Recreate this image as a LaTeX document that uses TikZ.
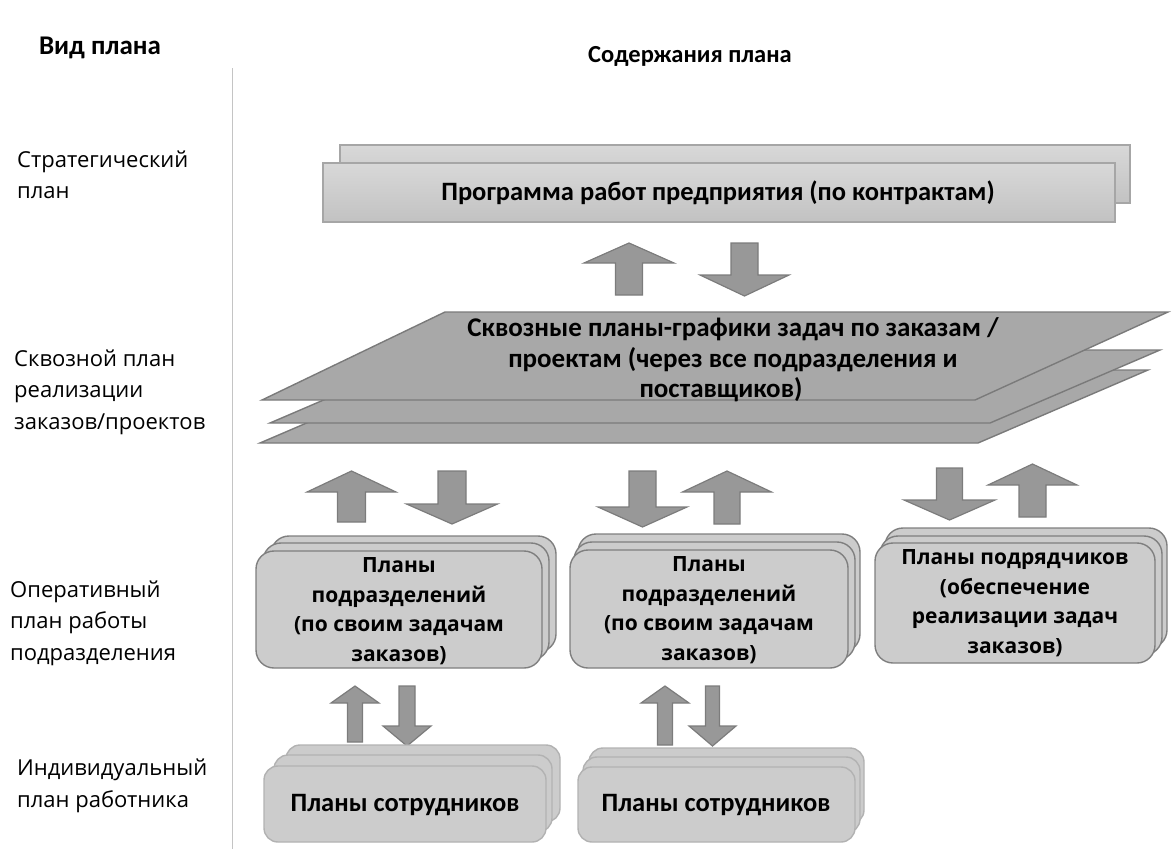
\documentclass[tikz,border=0pt]{standalone}
\usepackage{fontspec}
\setmainfont{Open Sans}
\newfontfamily\condbold{Carlito}[BoldFont={* Bold}]
\usetikzlibrary{calc}

\definecolor{topfillA}{HTML}{D8D8D8}
\definecolor{topfillB}{HTML}{C2C2C2}
\definecolor{topline}{HTML}{A6A6A6}
\definecolor{sheetfill}{HTML}{A8A8A8}
\definecolor{sheetline}{HTML}{7A7A7A}
\definecolor{arrfill}{HTML}{989898}
\definecolor{arrline}{HTML}{7C7C7C}
\definecolor{boxfill}{HTML}{CCCCCC}
\definecolor{boxline}{HTML}{7F7F7F}
\definecolor{lowline}{HTML}{B2B2B2}
\definecolor{rulecol}{HTML}{C4C4C4}

\tikzset{
  topbox/.style={top color=topfillA, bottom color=topfillB, draw=topline, line width=1.2},
  sheet/.style={fill=sheetfill, draw=sheetline, line width=1.4, line join=miter},
  blockarrow/.style={fill=arrfill, draw=arrline, line width=1.2, line join=miter},
  midbox/.style={fill=boxfill, draw=boxline, line width=1.4, rounded corners=18},
  lowbox/.style={fill=boxfill, draw=lowline, line width=1.4, rounded corners=14},
  rowlabel/.style={anchor=west, align=left, inner sep=0,
    font=\fontsize{22}{31.5}\selectfont},
  headlabel/.style={inner sep=0, font=\condbold\bfseries\fontsize{26}{30}\selectfont},
  sheettext/.style={inner sep=0, align=center,
    font=\condbold\bfseries\fontsize{27}{30.5}\selectfont},
  midtext/.style={inner sep=0, align=center,
    font=\bfseries\fontsize{21}{29.5}\selectfont},
  lowtext/.style={inner sep=0, font=\condbold\bfseries\fontsize{26.5}{30}\selectfont}
}

% block arrow pointing up: centre x, tip y, tail y, head half width, shaft half width, head length
\newcommand{\blockUp}[6]{%
  \draw[blockarrow] (#1,#2) -- (#1+#4,#2+#6) -- (#1+#5,#2+#6) -- (#1+#5,#3)
    -- (#1-#5,#3) -- (#1-#5,#2+#6) -- (#1-#4,#2+#6) -- cycle;}
% block arrow pointing down: centre x, tail y, tip y, head half width, shaft half width, head length
\newcommand{\blockDown}[6]{%
  \draw[blockarrow] (#1-#5,#2) -- (#1+#5,#2) -- (#1+#5,#3-#6) -- (#1+#4,#3-#6)
    -- (#1,#3) -- (#1-#4,#3-#6) -- (#1-#5,#3-#6) -- cycle;}

\begin{document}
\begin{tikzpicture}[x=1pt,y=-1pt]
\useasboundingbox (0,0) rectangle (1172,849);

% column headings and divider
\node[headlabel, font=\condbold\bfseries\fontsize{27}{30}\selectfont] (hkind) at (100,48) {Вид плана};
\node[headlabel, font=\condbold\bfseries\fontsize{24.5}{30}\selectfont] (hcontent) at (690,56) {Содержания плана};
\draw[rulecol, line width=1] (232,68) -- (232,849);

% plan levels
\node[rowlabel] (lvl1) at (17,175) {Стратегический\\план};
\node[rowlabel] (lvl2) at (14,392) {Сквозной план\\реализации\\заказов/проектов};
\node[rowlabel] (lvl3) at (10,623) {Оперативный\\план работы\\подразделения};
\node[rowlabel] (lvl4) at (17,786) {Индивидуальный\\план работника};

% strategic programme (two stacked sheets)
\draw[topbox] (340,145) rectangle (1130,203);
\draw[topbox] (323,163) rectangle (1115,222);
\node[headlabel, font=\condbold\bfseries\fontsize{26.5}{30}\selectfont] (prog) at (718,193) {Программа работ предприятия (по контрактам)};

% arrows between programme and end-to-end schedules
\blockUp{629}{243}{295}{45}{13.5}{20}
\blockDown{744.5}{243}{296}{44.5}{13.5}{21}

% end-to-end schedules (three stacked slanted sheets)
\draw[sheet] (430,370) -- (1148,370) -- (978,443) -- (260,443) -- cycle;
\draw[sheet] (440,350) -- (1160,350) -- (990,423) -- (270,423) -- cycle;
\draw[sheet] (445,312) -- (1168,312) -- (975,400) -- (262,400) -- cycle;
\node[sheettext] (sched) at (733,360)
  {Сквозные планы-графики задач по заказам /\\проектам (через все подразделения и\\поставщиков)\hspace*{24pt}};

% arrows between schedules and unit plans
\blockUp{351.5}{471}{522}{44.5}{14}{21}
\blockDown{452}{471}{524}{45.5}{14}{20}
\blockDown{642.5}{471}{527}{44.5}{13.5}{20}
\blockUp{727}{471}{524}{44.5}{13}{21}
\blockDown{949.5}{468}{520}{45.5}{13}{20}
\blockUp{1032.5}{464}{517}{44.5}{13.5}{21}

% unit plans
\draw[midbox] (271,536) rectangle (556,652);
\draw[midbox] (263,543) rectangle (549,660);
\draw[midbox] (256,551) rectangle (542,668);
\node[midtext] (unitA) at (399,611) {Планы\\подразделений\\(по своим задачам\\заказов)};

\draw[midbox] (578,534) rectangle (860,652);
\draw[midbox] (574,542) rectangle (855,660);
\draw[midbox] (570,550) rectangle (848,668);
\node[midtext] (unitB) at (709,610) {Планы\\подразделений\\(по своим задачам\\заказов)};

\draw[midbox] (885,528) rectangle (1167,648);
\draw[midbox] (880,536) rectangle (1162,655);
\draw[midbox] (875,543) rectangle (1155,663);
\node[midtext] (contr) at (1015,603) {Планы подрядчиков\\(обеспечение\\реализации задач\\заказов)};

% arrows between unit plans and staff plans
\blockUp{355}{686}{742}{24}{7.5}{17}
\blockDown{407}{686}{746}{24}{8}{20}
\blockUp{665}{686}{745}{24}{7.5}{17}
\blockDown{712.5}{686}{746}{23.5}{7}{20}

% staff plans
\draw[lowbox] (286,745) rectangle (560,822);
\draw[lowbox] (274,755) rectangle (552,832);
\draw[lowbox] (264,766) rectangle (546,842);
\node[lowtext] (staffA) at (405,805) {Планы сотрудников};

\draw[lowbox] (589,748) rectangle (864,824);
\draw[lowbox] (583,757) rectangle (860,833);
\draw[lowbox] (578,767) rectangle (855,842);
\node[lowtext] (staffB) at (716,805) {Планы сотрудников};
\end{tikzpicture}
\end{document}
